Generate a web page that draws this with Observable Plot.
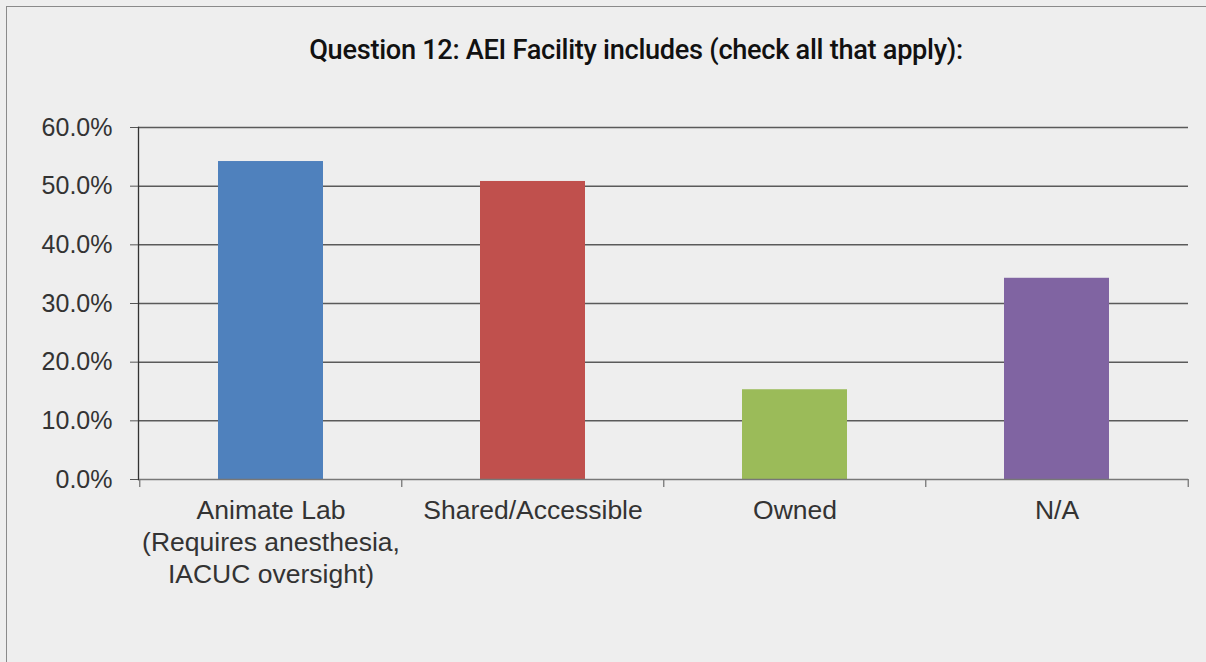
<!DOCTYPE html>
<html>
<head>
<meta charset="utf-8">
<script src="https://cdn.jsdelivr.net/npm/d3@7"></script>
<script src="https://cdn.jsdelivr.net/npm/@observablehq/plot@0.6"></script>
<style>
  html, body { margin: 0; padding: 0; background: #eeeeee; }
  #wrap { position: relative; width: 1206px; height: 662px; background: #eeeeee; overflow: hidden; font-family: "Liberation Sans", Arial, sans-serif; }
  #border { position: absolute; left: 6px; top: 6px; width: 1210px; height: 670px; border-left: 1.5px solid #8a8a8a; border-top: 1.5px solid #8a8a8a; }
  #title { position: absolute; top: 34px; left: 0; width: 1272px; text-align: center; font-family: Roboto, "Liberation Sans", sans-serif; font-weight: 500; font-size: 27.2px; color: #111; letter-spacing: -0.3px; }
  #chart { position: absolute; left: 0; top: 90px; }
</style>
</head>
<body>
<div id="wrap">
  <div id="border"></div>
  <div id="title">Question 12: AEI Facility includes (check all that apply):</div>
  <div id="chart"></div>
</div>
<script>
const categories = ["Animate Lab\n(Requires anesthesia,\nIACUC oversight)", "Shared/Accessible", "Owned", "N/A"];
const values = [0.542, 0.508, 0.153, 0.343];
const colors = ["#4f81bd", "#c0504d", "#9bbb59", "#8064a2"];
const yTicks = [0, 0.1, 0.2, 0.3, 0.4, 0.5, 0.6];

const data = categories.map((c, i) => ({category: c, value: values[i], color: colors[i]}));
const band = (1206 - 138 - 18) / categories.length;

const chart = Plot.plot({
  width: 1206,
  height: 510,
  marginLeft: 138,
  marginRight: 18,
  marginTop: 37,
  marginBottom: 121,
  style: { background: "transparent", fontFamily: "'Liberation Sans', Arial, sans-serif", fontSize: "25px", color: "#333" },
  x: { domain: categories, paddingInner: 0.6, paddingOuter: 0.3, label: null },
  y: { domain: [0, 0.6], label: null },
  marks: [
    Plot.ruleY(yTicks.slice(1), { stroke: "#5a5a5a", strokeWidth: 1.5 }),
    Plot.barY(data, { x: "category", y: "value", fill: "color" }),
    Plot.ruleY([0], { stroke: "#777", strokeWidth: 1.5 }),
    Plot.frame({ anchor: "left", stroke: "#333", strokeWidth: 1.3 }),
    Plot.ruleX(categories, { dx: -band / 2, insetTop: 352, insetBottom: -8, stroke: "#777", strokeWidth: 1.3 }),
    Plot.ruleX(categories.slice(-1), { dx: band / 2, insetTop: 352, insetBottom: -8, stroke: "#777", strokeWidth: 1.3 }),
    Plot.axisY({ ticks: yTicks, tickFormat: d => (d * 100).toFixed(1) + "%", tickSize: 8, tickPadding: 18, stroke: "#555", fill: "#333", fontSize: 25, label: null }),
    Plot.axisX({ tickSize: 0, tickPadding: 17, fill: "#333", fontSize: 26.5, lineHeight: 1.21, label: null })
  ]
});
document.getElementById("chart").appendChild(chart);
</script>
</body>
</html>
